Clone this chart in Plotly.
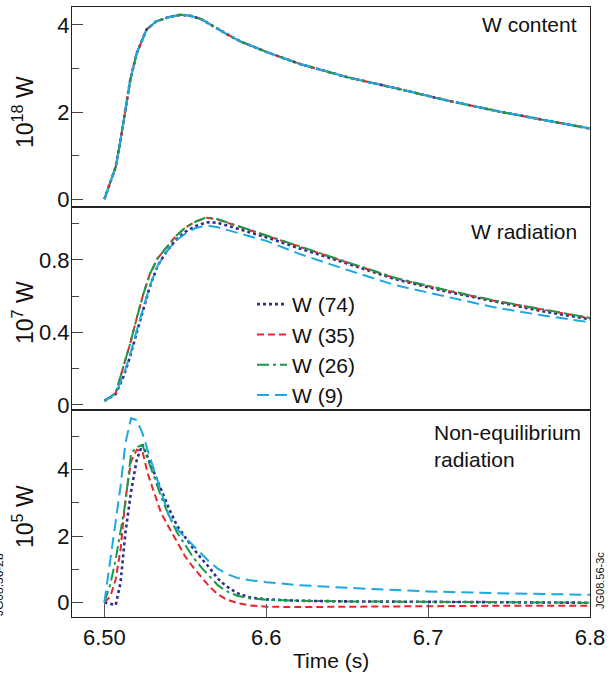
import plotly.graph_objects as go

# ---------------- data ----------------
series_names = ["W (74)", "W (35)", "W (26)", "W (9)"]

t_content = [6.500, 6.507, 6.510, 6.513, 6.516, 6.520, 6.526, 6.532, 6.540, 6.547,
             6.553, 6.560, 6.567, 6.575, 6.584, 6.600, 6.621, 6.650, 6.683, 6.710,
             6.744, 6.770, 6.800]
content_74 = [0.00, 0.74, 1.36, 2.05, 2.74, 3.35, 3.89, 4.08, 4.18, 4.23,
              4.21, 4.13, 3.97, 3.80, 3.62, 3.38, 3.10, 2.80, 2.52, 2.28,
              2.01, 1.83, 1.62]
content_35 = [0.00, 0.74, 1.36, 2.05, 2.74, 3.35, 3.89, 4.08, 4.18, 4.23,
              4.21, 4.13, 3.97, 3.80, 3.62, 3.38, 3.10, 2.80, 2.52, 2.28,
              2.01, 1.83, 1.62]
content_26 = [0.00, 0.74, 1.36, 2.05, 2.74, 3.35, 3.89, 4.08, 4.18, 4.23,
              4.21, 4.13, 3.97, 3.80, 3.62, 3.38, 3.10, 2.80, 2.52, 2.28,
              2.01, 1.83, 1.62]
content_9 = [0.00, 0.74, 1.36, 2.05, 2.74, 3.35, 3.89, 4.08, 4.18, 4.23,
             4.21, 4.13, 3.97, 3.80, 3.62, 3.38, 3.10, 2.80, 2.52, 2.28,
             2.01, 1.83, 1.62]

t_rad = [6.500, 6.507, 6.512, 6.516, 6.520, 6.524, 6.528, 6.533, 6.538, 6.544,
         6.550, 6.556, 6.563, 6.570, 6.580, 6.590, 6.600, 6.620, 6.650, 6.680,
         6.710, 6.740, 6.770, 6.800]
rad_74 = [0.022, 0.060, 0.160, 0.270, 0.400, 0.530, 0.650, 0.770, 0.840, 0.910,
          0.955, 0.985, 1.008, 1.005, 0.980, 0.952, 0.925, 0.865, 0.780, 0.693,
          0.628, 0.571, 0.518, 0.472]
rad_35 = [0.022, 0.065, 0.220, 0.340, 0.480, 0.610, 0.720, 0.810, 0.865, 0.930,
          0.978, 1.010, 1.033, 1.023, 0.993, 0.963, 0.933, 0.873, 0.786, 0.698,
          0.634, 0.576, 0.526, 0.478]
rad_26 = [0.022, 0.065, 0.220, 0.340, 0.480, 0.610, 0.720, 0.810, 0.865, 0.930,
          0.978, 1.010, 1.035, 1.025, 0.995, 0.965, 0.935, 0.875, 0.788, 0.700,
          0.636, 0.578, 0.528, 0.480]
rad_9 = [0.022, 0.062, 0.170, 0.280, 0.410, 0.540, 0.655, 0.770, 0.840, 0.905,
         0.945, 0.975, 0.990, 0.980, 0.955, 0.930, 0.905, 0.835, 0.745, 0.660,
         0.600, 0.540, 0.495, 0.456]

t_neq = [6.500, 6.5037, 6.507, 6.510, 6.513, 6.5165, 6.520, 6.5235, 6.527, 6.531,
         6.535, 6.540, 6.545, 6.550, 6.555, 6.560, 6.565, 6.570, 6.575, 6.582,
         6.590, 6.600, 6.620, 6.650, 6.700, 6.750, 6.800]
neq_74 = [0.00, -0.05, -0.08, 0.60, 2.10, 3.35, 4.30, 4.76, 4.35, 3.90,
          3.40, 2.82, 2.30, 1.95, 1.62, 1.32, 1.04, 0.72, 0.50, 0.28,
          0.15, 0.09, 0.05, 0.03, 0.01, 0.00, -0.01]
neq_35 = [0.00, 0.18, 0.70, 1.60, 3.10, 4.25, 4.60, 4.55, 3.85, 3.30,
          2.70, 2.25, 1.80, 1.38, 1.05, 0.75, 0.47, 0.25, 0.10, -0.02,
          -0.09, -0.13, -0.14, -0.13, -0.11, -0.10, -0.10]
neq_26 = [0.00, 0.55, 1.30, 2.10, 3.00, 4.50, 4.68, 4.75, 4.30, 3.75,
          3.20, 2.60, 2.10, 1.72, 1.35, 1.05, 0.78, 0.52, 0.35, 0.20,
          0.12, 0.08, 0.05, 0.03, 0.02, 0.00, -0.01]
neq_9 = [0.00, 1.29, 2.50, 3.50, 4.80, 5.55, 5.50, 5.10, 4.55, 3.95,
         3.30, 2.60, 2.20, 1.95, 1.70, 1.45, 1.22, 1.02, 0.87, 0.74,
         0.67, 0.61, 0.52, 0.44, 0.33, 0.27, 0.23]

x_tickvals = [6.5, 6.6, 6.7, 6.8]
x_ticktext = ["6.50", "6.6", "6.7", "6.8"]

# ---------------- styling ----------------
FONT = "Liberation Sans, Arial, sans-serif"
FS = 21
TFS = 22
colors = ["#2b2f8f", "#e8262a", "#1a9a48", "#1ca8e0"]
dashes = ["dot", "7px,4px", "12px,4px,3px,4px", "12px,6px"]
widths = [2.6, 2, 2, 2]

content = [content_74, content_35, content_26, content_9]
rad = [rad_74, rad_35, rad_26, rad_9]
neq = [neq_74, neq_35, neq_26, neq_9]

fig = go.Figure()
for i, name in enumerate(series_names):
    line = dict(color=colors[i], dash=dashes[i], width=widths[i])
    fig.add_trace(go.Scatter(x=t_content, y=content[i], mode="lines", line=line,
                             name=name, showlegend=False, xaxis="x", yaxis="y"))
    fig.add_trace(go.Scatter(x=t_rad, y=rad[i], mode="lines", line=line,
                             name=name, showlegend=True, xaxis="x2", yaxis="y2"))
    fig.add_trace(go.Scatter(x=t_neq, y=neq[i], mode="lines", line=line,
                             name=name, showlegend=False, xaxis="x3", yaxis="y3"))

H = 610.0
W = 518.0
d_bot = [0, 207 / H]
d_mid = [207 / H, 410 / H]
d_top = [410 / H, 1]

xcommon = dict(range=[6.48, 6.8], showline=True, mirror=True, linecolor="#222",
               linewidth=1.2, showgrid=False, zeroline=False, automargin=False)
ycommon = dict(showline=True, mirror=True, linecolor="#222", linewidth=1.2,
               showgrid=False, zeroline=False, ticks="inside", ticklen=11,
               tickwidth=1.2, tickcolor="#444", automargin=False,
               ticklabelstandoff=-3,
               tickfont=dict(family=FONT, size=TFS, color="#111"))

fig.update_layout(
    width=614, height=675,
    margin=dict(l=72, r=24, t=7, b=58),
    paper_bgcolor="white", plot_bgcolor="white",
    font=dict(family=FONT, color="#111"),
    xaxis=dict(**xcommon, domain=[0, 1], anchor="y", showticklabels=False,
               ticks="", matches="x3"),
    xaxis2=dict(**xcommon, domain=[0, 1], anchor="y2", showticklabels=False,
                ticks="", matches="x3"),
    xaxis3=dict(**xcommon, domain=[0, 1], anchor="y3", tickvals=x_tickvals,
                ticktext=x_ticktext, ticks="inside", ticklen=13, tickwidth=1.2,
                tickcolor="#555", tickfont=dict(family=FONT, size=TFS, color="#111")),
    yaxis=dict(**ycommon, domain=d_top, anchor="x", range=[-0.18, 4.41],
               tickvals=[0, 2, 4], minor=dict(tickvals=[1, 3], ticks="inside",
                                              ticklen=7, tickcolor="#444")),
    yaxis2=dict(**ycommon, domain=d_mid, anchor="x2", range=[-0.028, 1.092],
                tickvals=[0, 0.4, 0.8], ticktext=["0", "0.4", "0.8"],
                minor=dict(tickvals=[0.2, 0.6, 1.0], ticks="inside", ticklen=7,
                           tickcolor="#444")),
    yaxis3=dict(**ycommon, domain=d_bot, anchor="x3", range=[-0.44, 5.8],
                tickvals=[0, 2, 4], minor=dict(tickvals=[1, 3, 5], ticks="inside",
                                               ticklen=7, tickcolor="#444")),
    legend=dict(x=(252 - 72) / W, y=(617 - 284) / H, xanchor="left",
                yanchor="top", bgcolor="rgba(0,0,0,0)",
                font=dict(family=FONT, size=FS, color="#111"),
                tracegroupgap=0, itemwidth=30),
)


def px_x(p):
    return (p - 72) / W


def px_y(p):
    return (617 - p) / H


ann = [
    dict(text="W content", x=px_x(579), y=px_y(25), xanchor="right", yanchor="middle",
         font=dict(size=FS)),
    dict(text="W radiation", x=px_x(579), y=px_y(232), xanchor="right",
         yanchor="middle", font=dict(size=FS)),
    dict(text="Non-equilibrium<br>radiation", x=px_x(432), y=px_y(446), xanchor="left",
         yanchor="middle", align="left", font=dict(size=FS)),
    dict(text="Time (s)", x=px_x(331), y=px_y(660), xanchor="center",
         yanchor="middle", font=dict(size=FS)),
    dict(text="10<sup>18</sup> W", x=px_x(23), y=px_y(112), textangle=-90,
         xanchor="center", yanchor="middle", font=dict(size=23)),
    dict(text="10<sup>7</sup> W", x=px_x(23), y=px_y(313), textangle=-90,
         xanchor="center", yanchor="middle", font=dict(size=23)),
    dict(text="10<sup>5</sup> W", x=px_x(23), y=px_y(517), textangle=-90,
         xanchor="center", yanchor="middle", font=dict(size=23)),
    dict(text="JG08.56-3c", x=px_x(600), y=px_y(581), textangle=-90,
         xanchor="center", yanchor="middle", font=dict(size=11)),
    dict(text="JG08.56-2b", x=px_x(-1), y=px_y(585), textangle=-90,
         xanchor="center", yanchor="middle", font=dict(size=12)),
]
for a in ann:
    a.update(xref="paper", yref="paper", showarrow=False)
    a["font"].setdefault("family", FONT)
    a["font"].setdefault("color", "#111")
fig.update_layout(annotations=ann)

fig.write_html("out.html",
               config={"displayModeBar": False},
               post_script="document.body.style.margin='0';"
                           "document.body.style.padding='0';")
